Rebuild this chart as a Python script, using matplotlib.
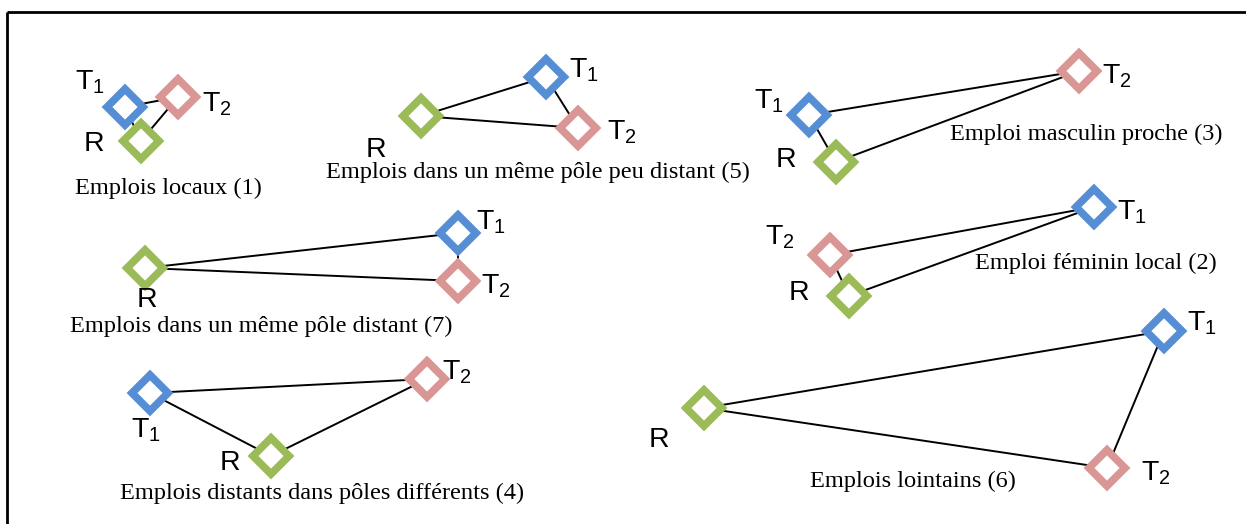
import matplotlib
matplotlib.use("Agg")
import matplotlib.pyplot as plt
from matplotlib.markers import MarkerStyle

plt.rcParams['mathtext.fontset'] = 'custom'
plt.rcParams['mathtext.rm'] = 'Liberation Sans'

# --- diagram data (pixel coordinates of the reference picture) ---
captions = [
    "Emplois locaux (1)",
    "Emplois dans un même pôle peu distant (5)",
    "Emploi masculin proche (3)",
    "Emplois dans un même pôle distant (7)",
    "Emploi féminin local (2)",
    "Emplois distants dans pôles différents (4)",
    "Emplois lointains (6)",
]
caption_xy = [(75, 188), (326, 172), (950, 134), (70, 326),
              (975, 263), (120, 493), (810, 481)]

t1_xy = [(125, 107), (546, 77), (809, 115), (458, 233),
         (1094, 207), (150, 393), (1164, 331)]
t2_xy = [(178, 97), (578, 128), (1079, 71), (458, 281),
         (830, 255), (427, 379), (1107, 468)]
r_xy = [(141, 141), (421, 116), (836, 162), (145, 268),
        (849, 296), (271, 456), (704, 408)]

# label anchor points (left x, centre y of the capital letter)
t1_label = [(75, 79), (569, 67), (754, 98), (476, 219),
            (1117, 209), (131, 427), (1187, 320)]
t2_label = [(202, 101), (607, 129), (1102, 73), (481, 283),
            (765, 234), (442, 369), (1141, 470)]
r_label = [(84, 141), (366, 147), (776, 157), (137, 297),
           (789, 290), (220, 460), (649, 437)]

blue = '#558ED5'
pink = '#D99694'
green = '#9BBB59'

fig = plt.figure(figsize=(12.46, 5.24), dpi=100)
ax = fig.add_axes([0, 0, 1, 1])
ax.set_xlim(0, 1246)
ax.set_ylim(524, 0)
ax.axis('off')

# frame (top and left edges only visible)
ax.plot([7, 1246], [12, 12], color='black', lw=2, solid_capstyle='butt')
ax.plot([7, 7], [12, 524], color='black', lw=2, solid_capstyle='butt')

diamond = MarkerStyle('D', joinstyle='miter')

for i in range(len(captions)):
    t1, t2, r = t1_xy[i], t2_xy[i], r_xy[i]
    for a, b in [(t1, t2), (t1, r), (r, t2)]:
        ax.plot([a[0], b[0]], [a[1], b[1]], color='black', lw=1.4, zorder=1)
    for p, c in [(t1, blue), (t2, pink), (r, green)]:
        ax.plot(p[0], p[1], marker=diamond, ms=18.5, mfc='white', mec=c,
                mew=5.5, zorder=2, linestyle='none')

    ax.text(t1_label[i][0], t1_label[i][1], r'T$_{\mathrm{1}}$', fontsize=20.5,
            family='Liberation Sans', ha='left', va='center_baseline')
    ax.text(t2_label[i][0], t2_label[i][1], r'T$_{\mathrm{2}}$', fontsize=20.5,
            family='Liberation Sans', ha='left', va='center_baseline')
    ax.text(r_label[i][0], r_label[i][1], 'R', fontsize=20.5,
            family='Liberation Sans', ha='left', va='center_baseline')

    ax.text(caption_xy[i][0], caption_xy[i][1], captions[i], fontsize=17.6,
            family='Liberation Serif', ha='left', va='center')

fig.savefig('out.png', dpi=100)
